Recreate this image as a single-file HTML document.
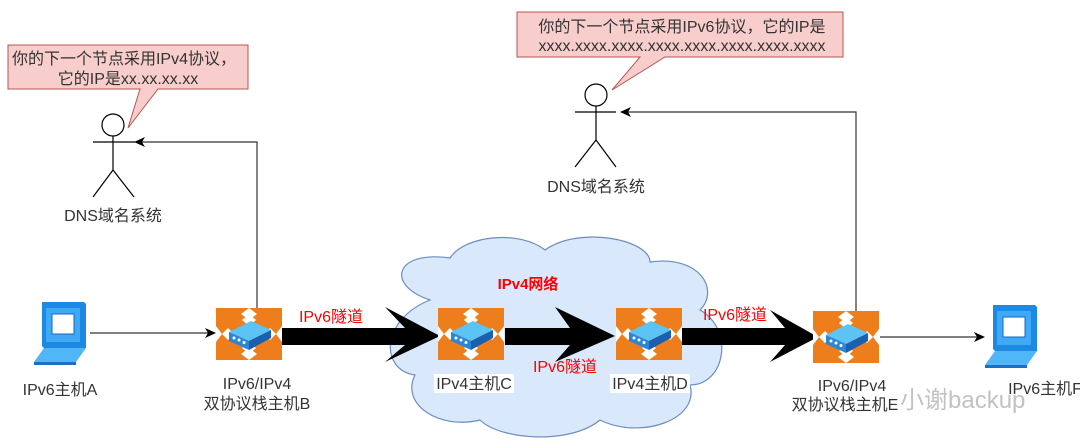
<!DOCTYPE html>
<html><head><meta charset="utf-8"><style>
html,body{margin:0;padding:0;background:#fff;}
svg{display:block;font-family:"Liberation Sans","Noto Sans CJK SC",sans-serif;}
</style></head><body>
<svg width="1080" height="444" viewBox="0 0 1080 444" xmlns="http://www.w3.org/2000/svg">
<defs>
<g id="router">
<rect x="0" y="0" width="66" height="52" fill="#ee7d1c"/>
<polygon points="33,0 41,6 33,12 25,6" fill="#fff"/>
<polygon points="33,40 41,46 33,52 25,46" fill="#fff"/>
<polygon points="0,18 6,26 0,34" fill="#fff"/>
<polygon points="66,18 60,26 66,34" fill="#fff"/>
<polygon points="6,26 12,20 18,26 12,32" fill="#fff"/>
<polygon points="48,26 54,20 60,26 54,32" fill="#fff"/>
<polygon points="33,6 40,12 33,18 26,12" fill="#fff"/>
<polygon points="33,34 40,40 33,46 26,40" fill="#fff"/>
<polygon points="13,24 35,13 55,22 33,33" fill="#5cc3f5"/>
<polygon points="13,24 33,33 33,42 13,33" fill="#2c86d8"/>
<polygon points="33,33 55,22 55,30 33,42" fill="#1b5fb0"/>
<circle cx="18" cy="30" r="1.5" fill="#fff"/><circle cx="23" cy="32" r="1.5" fill="#fff"/><circle cx="28" cy="34.5" r="1.5" fill="#fff"/>
</g>
<g id="laptop">
<polygon points="8,0 50,0 52,2 52,46 10,46 8,44" fill="#1e88e5"/>
<rect x="12" y="6" width="34" height="34" fill="#3fa9f5"/>
<rect x="18" y="12" width="22" height="20" fill="#fff" stroke="#1565c0"/>
<polygon points="10,46 52,46 42,60 0,60" fill="#4fb6f7"/>
<polygon points="0,60 42,60 42,63 0,63" fill="#1e6fc4"/>
</g>
</defs>

<path d="M430,300 C385,285 395,250 450,258 C465,235 520,230 545,250 C580,225 650,240 650,262 C700,255 720,290 700,310 C735,330 725,385 690,385 C700,420 640,440 600,420 C570,445 500,440 480,420 C440,430 400,405 415,375 C380,370 380,320 430,300 Z" fill="#dae8fc" stroke="#6c8ebf" stroke-width="1.2"/>
<text x="528" y="289" font-size="15" font-weight="bold" fill="#ff0000" text-anchor="middle">IPv4网络</text>

<path d="M8,45 L248,45 L248,89 L158,89 L128,128 L140,89 L8,89 Z" fill="#f8cecc" stroke="#b85450" stroke-width="1"/>
<text x="124" y="64" font-size="16" fill="#333" text-anchor="middle">你的下一个节点采用IPv4协议，</text>
<text x="128" y="84" font-size="16" fill="#333" text-anchor="middle">它的IP是xx.xx.xx.xx</text>

<path d="M517,12 L843,12 L843,57 L665,57 L612,90 L640,57 L517,57 Z" fill="#f8cecc" stroke="#b85450" stroke-width="1"/>
<text x="682" y="32" font-size="16" fill="#333" text-anchor="middle">你的下一个节点采用IPv6协议，它的IP是</text>
<text x="682" y="51" font-size="16" fill="#333" text-anchor="middle">xxxx.xxxx.xxxx.xxxx.xxxx.xxxx.xxxx.xxxx</text>

<g stroke="#000" stroke-width="1.2" fill="none">
<circle cx="113" cy="125" r="11" fill="#fff"/>
<line x1="113" y1="136" x2="113" y2="170"/>
<line x1="93" y1="142" x2="135" y2="142"/>
<line x1="113" y1="170" x2="93" y2="197"/>
<line x1="113" y1="170" x2="134" y2="197"/>
<circle cx="596" cy="95" r="11" fill="#fff"/>
<line x1="596" y1="106" x2="596" y2="140"/>
<line x1="575" y1="112" x2="616" y2="112"/>
<line x1="596" y1="140" x2="575" y2="167"/>
<line x1="596" y1="140" x2="616" y2="167"/>
</g>
<text x="113" y="221" font-size="16" fill="#333" text-anchor="middle">DNS域名系统</text>
<text x="596" y="192" font-size="16" fill="#333" text-anchor="middle">DNS域名系统</text>

<g stroke="#333" stroke-width="1.2" fill="none">
<polyline points="257,308 257,142 140,142"/>
<polyline points="856,311 856,112 626,112"/>
<line x1="90" y1="333" x2="210" y2="333"/>
<line x1="880" y1="337" x2="978" y2="337"/>
</g>
<g fill="#000">
<polygon points="134,142 145,137 142,142 145,147"/>
<polygon points="620,112 631,107 628,112 631,117"/>
<polygon points="216,333 205,328 208,333 205,338"/>
<polygon points="985,337 974,332 977,337 974,342"/>
</g>

<polygon points="282,328 405,328 385,307 440,336 385,362 405,345 282,345" fill="#000"/>
<polygon points="505,328 570,328 555,307 615,336 555,362 570,345 505,345" fill="#000"/>
<polygon points="682,328 785,328 770,310 818,337 770,362 785,345 682,345" fill="#000"/>

<use href="#laptop" x="34" y="302"/>
<use href="#laptop" x="985" y="305"/>
<use href="#router" x="216" y="308"/>
<use href="#router" x="438" y="308"/>
<use href="#router" x="616" y="308"/>
<use href="#router" x="813" y="311"/>

<g font-size="16" fill="#333" text-anchor="middle">
<text x="60" y="395">IPv6主机A</text>
<text x="257" y="389">IPv6/IPv4</text>
<text x="257" y="409">双协议栈主机B</text>
<rect x="434" y="374" width="80" height="19" fill="#fff"/>
<text x="474" y="389">IPv4主机C</text>
<rect x="610" y="374" width="80" height="19" fill="#fff"/>
<text x="650" y="389">IPv4主机D</text>
<text x="852" y="391">IPv6/IPv4</text>
<text x="845" y="410">双协议栈主机E</text>
<text x="1045" y="394">IPv6主机F</text>
</g>
<g font-size="16" fill="#ff0000" text-anchor="middle">
<text x="331" y="322">IPv6隧道</text>
<text x="565" y="372">IPv6隧道</text>
<text x="735" y="320">IPv6隧道</text>
</g>
<text x="900" y="408" font-size="24" fill="#999" fill-opacity="0.6">小谢backup</text>
</svg>
</body></html>
